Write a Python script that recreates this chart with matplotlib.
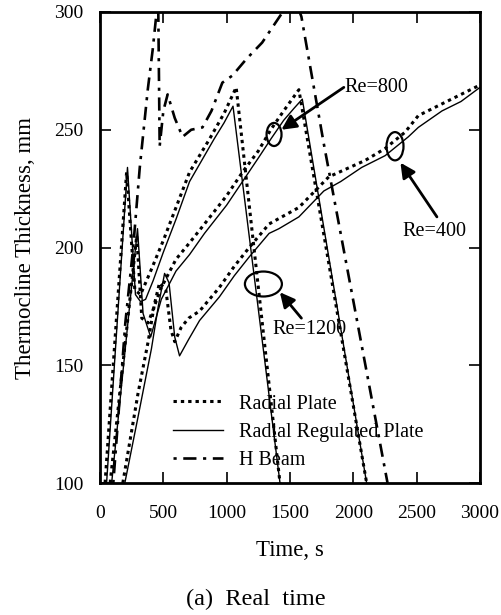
import matplotlib
matplotlib.use("Agg")
import matplotlib.pyplot as plt
from matplotlib.patches import Ellipse

plt.rcParams['font.family'] = ['Liberation Serif', 'DejaVu Serif']

# ---- data (time s, thermocline thickness mm) ----
# Re = 1200
rp1200_t = [40, 210, 275, 320, 400, 500, 600, 707, 864, 980, 1075, 1421]
rp1200_y = [100, 232, 182, 180, 190, 203, 217, 232, 246, 257, 268, 100]
rr1200_t = [52, 217, 280, 320, 360, 420, 500, 600, 707, 825, 900, 980, 1050, 1421]
rr1200_y = [100, 234, 180, 177, 178, 186, 198, 212, 228, 239, 246, 253, 260, 100]
# Re = 800
rp800_t = [80, 290, 330, 380, 484, 600, 707, 825, 1000, 1125, 1250, 1348, 1450, 1570, 2105]
rp800_y = [100, 205, 170, 168, 183, 195, 202, 210, 222, 232, 241, 250, 258, 267, 100]
rr800_t = [92, 222, 296, 340, 400, 484, 600, 707, 825, 1000, 1125, 1250, 1348, 1450, 1530, 1597, 2105]
rr800_y = [100, 169, 208, 172, 162, 178, 190, 197, 206, 218, 228, 238, 246, 254, 259, 263, 100]
# Re = 400
rp400_t = [180, 300, 380, 430, 470, 520, 560, 590, 640, 700, 786, 942, 1060, 1178, 1335,
           1570, 1806, 2094, 2250, 2409, 2513, 2700, 2850, 3000]
rp400_y = [100, 138, 160, 176, 185, 182, 165, 160, 166, 170, 173, 183, 192, 200, 210,
           217, 230, 237, 242, 249, 256, 261, 265, 269]
rr400_t = [196, 300, 406, 460, 510, 545, 590, 628, 700, 786, 942, 1060, 1178, 1335, 1413,
           1570, 1767, 1900, 2066, 2251, 2434, 2513, 2700, 2850, 3000]
rr400_y = [100, 128, 157, 175, 189, 185, 162, 154, 161, 169, 179, 188, 196, 206, 208,
           213, 224, 228, 234, 239, 247, 251, 258, 262, 268]
# H Beam
hb_t = [105, 200, 262, 314, 377, 416, 445, 458, 471, 500, 534, 590, 652, 720, 809, 880,
        966, 1045, 1155, 1280, 1430, 1510, 1590, 1767, 2270]
hb_y = [100, 168, 200, 234, 267, 284, 299, 312, 243, 258, 265, 255, 247, 250, 251, 258,
        270, 273, 280, 287, 299, 310, 298, 244, 100]

series_labels = ['Radial Plate', 'Radial Regulated Plate', 'H Beam']
x_ticks = [0, 500, 1000, 1500, 2000, 2500, 3000]
y_ticks = [100, 150, 200, 250, 300]

# annotations: (text, text position, arrow tail, arrow tip, ellipse centre, ellipse w, h)
annots = [
    ('Re=800', (1930, 268), (1925, 268), (1432, 250), (1374, 248), 118, 9.8),
    ('Re=400', (2640, 207), (2660, 213), (2372, 236), (2329, 243), 134, 12.0),
    ('Re=1200', (1650, 165), (1590, 170), (1420, 181), (1290, 184.5), 292, 10.6),
]

dot_ls = (0, (1.1, 1.3))
dd_ls = (0, (1.2, 2.5, 5, 2.5))

fig = plt.figure(figsize=(5.01, 6.15), dpi=100)
ax = fig.add_axes([0.1996, 0.2146, 0.7585, 0.7659])

ax.plot(rp1200_t, rp1200_y, color='k', lw=2.2, ls=dot_ls, label=series_labels[0])
ax.plot(rp800_t, rp800_y, color='k', lw=2.2, ls=dot_ls)
ax.plot(rp400_t, rp400_y, color='k', lw=2.2, ls=dot_ls)
ax.plot(rr1200_t, rr1200_y, color='k', lw=1.0, label=series_labels[1])
ax.plot(rr800_t, rr800_y, color='k', lw=1.0)
ax.plot(rr400_t, rr400_y, color='k', lw=1.0)
ax.plot(hb_t, hb_y, color='k', lw=1.9, ls=dd_ls, label=series_labels[2])

for txt, tpos, tail, tip, ec, ew, eh in annots:
    ax.add_patch(Ellipse(ec, ew, eh, fill=False, color='k', lw=1.6))
    ax.annotate('', xy=tip, xytext=tail,
                arrowprops=dict(arrowstyle='-|>', color='k', lw=2.0,
                                mutation_scale=22, shrinkA=0, shrinkB=0))
    ax.text(tpos[0], tpos[1], txt, fontsize=14.5, va='center',
            ha='left' if txt == 'Re=800' else 'center')

ax.set_xlim(0, 3000)
ax.set_ylim(100, 300)
ax.set_xticks(x_ticks)
ax.set_yticks(y_ticks)
ax.tick_params(direction='in', length=8, width=1.2, top=True, right=True,
               labelsize=14)
ax.tick_params(axis='x', pad=16)
ax.tick_params(axis='y', pad=12)
for s in ax.spines.values():
    s.set_linewidth(2.0)

ax.set_xlabel('Time, s', fontsize=16.5, labelpad=13)
ax.set_ylabel('Thermocline Thickness, mm', fontsize=16.5, labelpad=13)

ax.legend(loc='center left', bbox_to_anchor=(0.192, 0.108), frameon=False,
          fontsize=14.5, handlelength=2.5, handletextpad=0.8, labelspacing=0.45,
          borderpad=0, borderaxespad=0)

fig.text(0.51, 0.026, '(a)  Real  time', fontsize=17.5, ha='center', va='center')

fig.savefig('out.png', dpi=100)
